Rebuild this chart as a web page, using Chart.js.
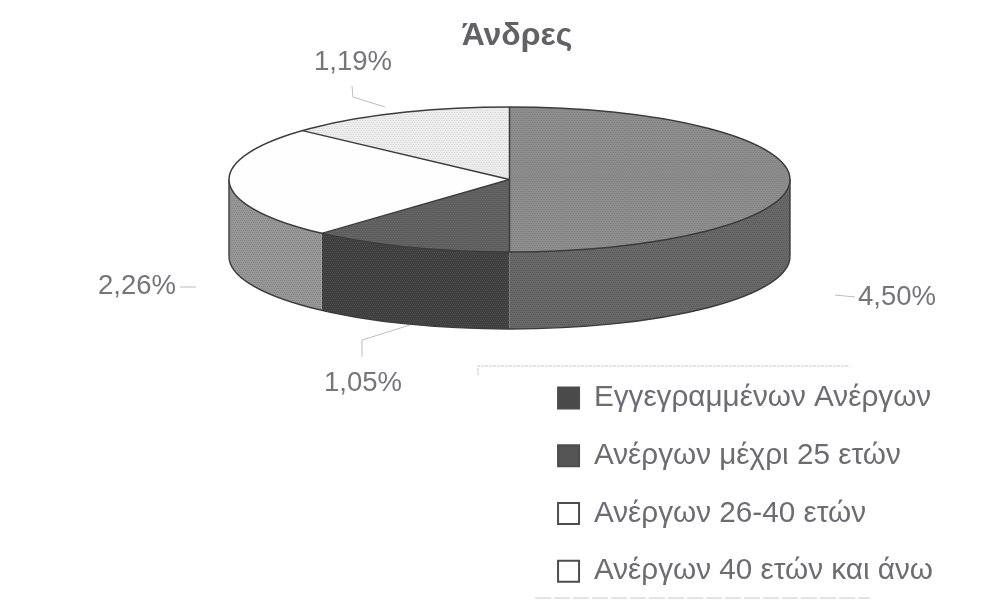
<!DOCTYPE html>
<html><head><meta charset="utf-8">
<script src="https://cdn.jsdelivr.net/npm/chart.js@4"></script>
<style>html,body{margin:0;padding:0;background:#fff}canvas{display:block;filter:blur(0.45px)}</style>
</head><body><canvas id="c" width="1002" height="601"></canvas>
<script>
const titleText = 'Άνδρες';
const categories = ['Εγγεγραμμένων Ανέργων','Ανέργων μέχρι 25 ετών','Ανέργων 26-40 ετών','Ανέργων 40 ετών και άνω'];
const values = [4.50, 1.05, 2.26, 1.19];

// Appearance and layout (not data)
const geo = {cx:509.5, cy:179.5, rx:280.5, ry:72.5, depth:77};
const topBase = ['#8f8f8f','#5d5d5d','#ffffff','#efefef'];
const topGrain = ['#7c7c7c','#6c6c6c','#fdfdfd','#d6d6d6'];
const wallBase = ['#686868','#3f3f3f','#979797','#979797'];
const wallGrain = ['#5c5c5c','#4c4c4c','#858585','#858585'];
const swatchFill = ['#4a4a4a','#555555','#ffffff','#ffffff'];
const labelAnchors = [[897,297],[363,383],[137,286],[353,62]];
const leaders = [
  [[835,295],[855,297]],
  [[410,325],[362,340],[362,357]],
  [[180,287],[196,287]],
  [[385,107],[353,97],[352,86]]
];

function tile(base, grain, w, h, step){
  const t = document.createElement('canvas'); t.width = w; t.height = h;
  const g = t.getContext('2d');
  g.fillStyle = base; g.fillRect(0,0,w,h);
  g.fillStyle = grain;
  for(let y=0;y<h;y+=step*2){ for(let x=(y/(step*2))%2;x<w;x+=2){ g.fillRect(x,y,1,step); } }
  return g.createPattern(t,'repeat');
}
const ctx0 = document.getElementById('c').getContext('2d');
const topFill = topBase.map((b,i)=>tile(b,topGrain[i],4,12,3));
const wallFill = wallBase.map((b,i)=>tile(b,wallGrain[i],4,4,1));

const pie3d = {
  id:'pie3d',
  beforeDatasetsDraw(chart){
    const ctx = chart.ctx, arcs = chart.getDatasetMeta(0).data, {cx,cy,rx,ry,depth} = geo;
    ctx.save();
    arcs.forEach((a,i)=>{
      const s = Math.max(a.startAngle,0), e = Math.min(a.endAngle,Math.PI);
      if(e<=s) return;
      ctx.beginPath();
      ctx.ellipse(cx,cy,rx,ry,0,s,e);
      ctx.ellipse(cx,cy+depth,rx,ry,0,e,s,true);
      ctx.closePath();
      ctx.fillStyle = wallFill[i]; ctx.fill();
    });
    ctx.strokeStyle='#3c3c3c'; ctx.lineWidth=1.4;
    ctx.beginPath(); ctx.ellipse(cx,cy+depth,rx,ry,0,0,Math.PI); ctx.stroke();
    ctx.beginPath(); ctx.moveTo(cx-rx,cy); ctx.lineTo(cx-rx,cy+depth);
    ctx.moveTo(cx+rx,cy); ctx.lineTo(cx+rx,cy+depth); ctx.stroke();
    ctx.restore();
    const el = arcs[0], R = el.outerRadius;
    ctx.save();
    ctx.translate(cx,cy); ctx.scale(rx/R,ry/R); ctx.translate(-el.x,-el.y);
  },
  afterDatasetsDraw(chart){
    const ctx = chart.ctx, arcs = chart.getDatasetMeta(0).data, {cx,cy,rx,ry} = geo;
    ctx.restore();
    ctx.save();
    ctx.strokeStyle='#3c3c3c'; ctx.lineWidth=1.5;
    ctx.beginPath(); ctx.ellipse(cx,cy,rx,ry,0,0,Math.PI*2); ctx.stroke();
    arcs.forEach(a=>{
      ctx.beginPath(); ctx.moveTo(cx,cy);
      ctx.lineTo(cx+rx*Math.cos(a.startAngle),cy+ry*Math.sin(a.startAngle)); ctx.stroke();
    });
    ctx.strokeStyle='#bcbcbc'; ctx.lineWidth=1;
    leaders.forEach(l=>{ ctx.beginPath(); l.forEach((p,i)=> i?ctx.lineTo(p[0],p[1]):ctx.moveTo(p[0],p[1])); ctx.stroke(); });
    ctx.fillStyle='#75757a'; ctx.font='27.5px "Liberation Sans"'; ctx.textAlign='center'; ctx.textBaseline='middle';
    values.forEach((v,i)=> ctx.fillText(v.toFixed(2).replace('.',',')+'%',labelAnchors[i][0],labelAnchors[i][1]));
    ctx.strokeStyle='#c8c8c8'; ctx.lineWidth=1; ctx.setLineDash([3,1]);
    ctx.beginPath(); ctx.moveTo(478,375); ctx.lineTo(478,366); ctx.lineTo(850,366); ctx.stroke();
    ctx.setLineDash([16,3]);
    ctx.beginPath(); ctx.moveTo(535,598); ctx.lineTo(870,598); ctx.stroke();
    ctx.restore();
  }
};

new Chart(ctx0,{
  type:'pie',
  data:{labels:categories,datasets:[{data:values,backgroundColor:topFill,borderWidth:0,clip:false}]},
  options:{
    responsive:false,animation:false,
    layout:{padding:{left:91,right:59,top:13,bottom:-13}},
    plugins:{
      tooltip:{enabled:false},
      title:{display:true,text:titleText,color:'#626266',font:{family:'"Liberation Sans"',size:32,weight:'bold'},padding:{top:4,bottom:4}},
      legend:{
        position:'right',align:'end',
        labels:{
          color:'#6c6c72',font:{family:'"Liberation Sans"',size:29.7},
          boxWidth:21,boxHeight:21,padding:28,
          generateLabels(chart){
            return categories.map((t,i)=>({text:t,fillStyle:swatchFill[i],strokeStyle:'#4d4d4d',lineWidth:2,index:i,fontColor:'#6c6c72'}));
          }
        }
      }
    }
  },
  plugins:[pie3d]
});
</script></body></html>
